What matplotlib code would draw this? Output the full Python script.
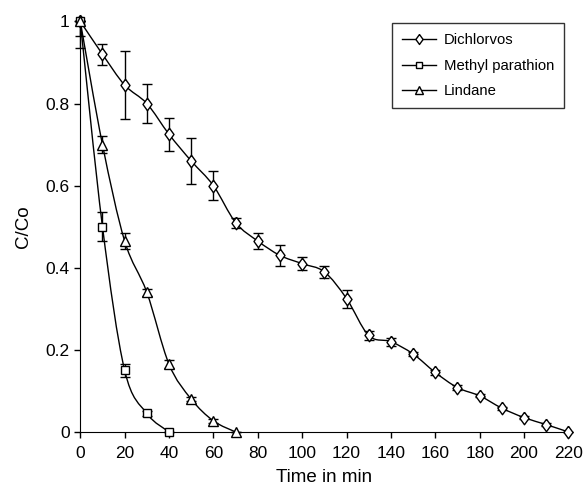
import numpy as np
import matplotlib
matplotlib.use('Agg')
import matplotlib.pyplot as plt
from matplotlib.path import Path
from matplotlib.patches import PathPatch

plt.rcParams['font.family'] = ['Liberation Sans', 'DejaVu Sans']

# data
t_dich = [0, 10, 20, 30, 40, 50, 60, 70, 80, 90, 100, 110, 120, 130, 140, 150,
          160, 170, 180, 190, 200, 210, 220]
c_dich = [1.0, 0.92, 0.845, 0.80, 0.725, 0.66, 0.60, 0.51, 0.465, 0.43, 0.41,
          0.39, 0.325, 0.235, 0.22, 0.19, 0.145, 0.108, 0.088, 0.058, 0.035,
          0.018, 0.0]
e_dich = [0.0, 0.025, 0.083, 0.048, 0.04, 0.055, 0.035, 0.012, 0.02, 0.025,
          0.015, 0.015, 0.022, 0.01, 0.01, 0.006, 0.006, 0.006, 0.004, 0.004,
          0.004, 0.004, 0.0]

t_mp = [0, 10, 20, 30, 40]
c_mp = [1.0, 0.50, 0.15, 0.045, 0.0]
e_mp = [0.065, 0.035, 0.015, 0.005, 0.0]

t_lin = [0, 10, 20, 30, 40, 50, 60, 70]
c_lin = [1.0, 0.70, 0.465, 0.34, 0.165, 0.08, 0.027, 0.0]
e_lin = [0.035, 0.02, 0.02, 0.008, 0.01, 0.005, 0.004, 0.0]

diamond = [(0, 1), (0.72, 0), (0, -1), (-0.72, 0), (0, 1)]
series = [('Dichlorvos', t_dich, c_dich, e_dich, diamond, 9),
          ('Methyl parathion', t_mp, c_mp, e_mp, 's', 6.2),
          ('Lindane', t_lin, c_lin, e_lin, '^', 7)]


def smooth_path(x, y):
    # Catmull-Rom style bezier through the points (like Excel smoothing)
    x = np.asarray(x, float)
    y = np.asarray(y, float)
    verts = [(x[0], y[0])]
    codes = [Path.MOVETO]
    n = len(x)
    for i in range(n - 1):
        x0, y0 = (x[i - 1], y[i - 1]) if i > 0 else (x[i], y[i])
        x3, y3 = (x[i + 2], y[i + 2]) if i + 2 < n else (x[i + 1], y[i + 1])
        c1 = (x[i] + (x[i + 1] - x0) / 6, y[i] + (y[i + 1] - y0) / 6)
        c2 = (x[i + 1] - (x3 - x[i]) / 6, y[i + 1] - (y3 - y[i]) / 6)
        verts += [c1, c2, (x[i + 1], y[i + 1])]
        codes += [Path.CURVE4] * 3
    return Path(verts, codes)


fig = plt.figure(figsize=(5.86, 4.87), dpi=100)
ax = fig.add_axes([0.137, 0.113, 0.833, 0.843])

for name, t, c, e, m, ms in series:
    ax.add_patch(PathPatch(smooth_path(t, c), fill=False, lw=1.0,
                           edgecolor='black', zorder=2, clip_on=False))
    # bars above 1 are not shown at t=0
    upper = [0 if ti == 0 else ei for ti, ei in zip(t, e)]
    eb = ax.errorbar(t, c, yerr=[e, upper], fmt='none', ecolor='black',
                     elinewidth=1.0, capsize=3.6, capthick=1.0, zorder=3)
    for art in eb.get_children():
        art.set_clip_on(False)
    ax.plot(t, c, linestyle='none', marker=m, ms=ms, mfc='white',
            mec='black', mew=1.0, zorder=4, clip_on=False)
    ax.plot([], [], color='black', lw=1.0, marker=m, ms=ms * 0.8,
            mfc='white', mec='black', mew=1.0, label=name)

ax.set_xlim(0, 220)
ax.set_ylim(0, 1)
ax.set_xticks(np.arange(0, 221, 20))
ax.set_yticks([0, 0.2, 0.4, 0.6, 0.8, 1.0])
ax.set_yticklabels(['0', '0.2', '0.4', '0.6', '0.8', '1'])
ax.tick_params(direction='out', length=4, width=1, labelsize=12.5,
               colors='black')
ax.tick_params(axis='x', pad=6)
ax.spines['top'].set_visible(False)
ax.spines['right'].set_visible(False)
ax.set_xlabel('Time in min', fontsize=13.5, labelpad=6)
ax.set_ylabel('C/Co', fontsize=13.5, labelpad=10)

leg = ax.legend(loc='upper right', bbox_to_anchor=(0.99, 0.995),
                fontsize=10.7, frameon=True, fancybox=False,
                handlelength=2.3, handletextpad=0.5,
                borderpad=0.65, labelspacing=0.78, borderaxespad=0)
leg.get_frame().set_edgecolor('black')
leg.get_frame().set_linewidth(1.0)

fig.savefig('out.png', dpi=100)
